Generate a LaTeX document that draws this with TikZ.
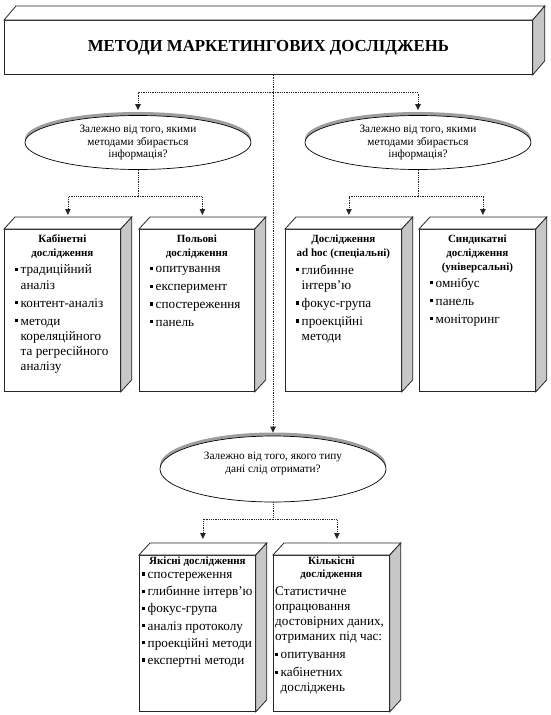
\documentclass[tikz,border=0pt]{standalone}
\usepackage{fontspec}
\setmainfont{Liberation Serif}
\usetikzlibrary{shapes.geometric,shadows,calc,arrows.meta}
\definecolor{sidegray}{gray}{0.78}
\definecolor{shadowgray}{gray}{0.62}
\newcommand\bul{\makebox[5.5pt][l]{\rule[2.8pt]{3.2pt}{3.2pt}}}
\newcommand\ind{\hspace*{5.5pt}}
\newcommand\boxfaces[3]{%
  \draw[edge, fill=white] (#1.north west) -- ++(#2,-#3) -- ($(#1.north east)+(#2,-#3)$) -- (#1.north east) -- cycle;
  \draw[edge, fill=sidegray] (#1.north east) -- ++(#2,-#3) -- ($(#1.south east)+(#2,-#3)$) -- (#1.south east) -- cycle;
}
\tikzset{
  edge/.style={draw=black!85, line width=0.8pt, line join=miter},
  front/.style={edge, fill=white, anchor=north west, inner sep=0pt},
  question/.style={ellipse, draw=black, line width=0.7pt, fill=white, minimum width=226pt, inner sep=0pt, align=center,
    font=\fontsize{11.3}{12.2}\selectfont,
    drop shadow={shadow xshift=0pt, shadow yshift=3.5pt, fill=shadowgray, opacity=1}},
  dline/.style={densely dotted, draw=black!85, line width=0.8pt},
  conn/.style={dline, -{Triangle[length=6pt,width=5.5pt]}},
  head/.style={anchor=north, inner sep=0pt, align=center, font=\bfseries\fontsize{11}{14}\selectfont},
  items/.style={anchor=north west, inner sep=0pt, align=left, font=\fontsize{13.2}{15.3}\selectfont},
}
\begin{document}
\begin{tikzpicture}[x=1pt,y=-1pt]
\useasboundingbox (0,0) rectangle (550,715);

% title
\node[front, minimum width=528pt, minimum height=54pt, font=\bfseries\fontsize{16.8}{18}\selectfont] (title) at (4,20) {МЕТОДИ МАРКЕТИНГОВИХ ДОСЛІДЖЕНЬ};
\boxfaces{title}{12}{14}

% questions
\node[question, minimum height=54pt] (e1) at (138,142.5) {Залежно від того, якими\\методами збирається\\інформація?};
\node[question, minimum height=54pt] (e2) at (418,142.5) {Залежно від того, якими\\методами збирається\\інформація?};
\node[question, minimum height=66pt, font=\fontsize{11.3}{13}\selectfont] (e3) at (273,469) {Залежно від того, якого типу\\дані слід отримати?\\[1pt]~};

% boxes
\node[front, minimum width=116pt, minimum height=162pt] (b1) at (4,229) {};
\boxfaces{b1}{11}{12}
\node[front, minimum width=115pt, minimum height=162pt] (b2) at (139,229) {};
\boxfaces{b2}{11}{12}
\node[front, minimum width=116pt, minimum height=162pt] (b3) at (285,229) {};
\boxfaces{b3}{11}{12}
\node[front, minimum width=116pt, minimum height=162pt] (b4) at (419,229) {};
\boxfaces{b4}{11}{12}
\node[front, minimum width=116pt, minimum height=156pt] (b5) at (139,555) {};
\boxfaces{b5}{11}{12}
\node[front, minimum width=116pt, minimum height=156pt] (b6) at (273,555) {};
\boxfaces{b6}{11}{12}

% box texts
\node[head] (h1) at ($(b1.north)+(0,5.5)$) {Кабінетні\\дослідження};
\node[items] (i1) at ($(b1.north west)+(11,35.5)$) {\bul традиційний\\ \ind аналіз\\[2.7pt] \bul контент-аналіз\\[2.7pt] \bul методи\\ \ind кореляційного\\ \ind та регресійного\\ \ind аналізу};
\node[head] (h2) at ($(b2.north)+(0,5.5)$) {Польові\\дослідження};
\node[items] (i2) at ($(b2.north west)+(11,37.5)$) {\bul опитування\\[2.4pt] \bul експеримент\\[2.4pt] \bul спостереження\\[2.4pt] \bul панель};
\node[head] (h3) at ($(b3.north)+(0,5.5)$) {Дослідження\\ad hoc (спеціальні)};
\node[items] (i3) at ($(b3.north west)+(11,35.5)$) {\bul глибинне\\ \ind інтерв’ю\\[2.7pt] \bul фокус-група\\[2.7pt] \bul проекційні\\ \ind методи};
\node[head] (h4) at ($(b4.north)+(0,5.5)$) {Синдикатні\\дослідження\\(універсальні)};
\node[items] (i4) at ($(b4.north west)+(11,48.5)$) {\bul омнібус\\[2.7pt] \bul панель\\[2.7pt] \bul моніторинг};
\node[head] (h5) at ($(b5.north)+(0,1.5)$) {Якісні дослідження};
\node[items] (i5) at ($(b5.north west)+(3,17)$) {\bul спостереження\\[1.9pt] \bul глибинне інтерв’ю\\[1.9pt] \bul фокус-група\\[1.9pt] \bul аналіз протоколу\\[1.9pt] \bul проекційні методи\\[1.9pt] \bul експертні методи};
\node[head, font=\bfseries\fontsize{11}{13}\selectfont] (h6) at ($(b6.north)+(0,1.5)$) {Кількісні\\дослідження};
\node[items, font=\fontsize{13.2}{15}\selectfont] (i6) at ($(b6.north west)+(2,32)$) {Статистичне\\ опрацювання\\ достовірних даних,\\ отриманих під час:\\[3pt] \bul опитування\\[3pt] \bul кабінетних\\ \ind досліджень};

% connectors
\coordinate (j0) at ($(title.south -| e3.north)+(0,18)$);
\draw[conn, shorten >=3pt] (title.south -| e3.north) -- (e3.north);
\draw[conn, shorten >=5pt] (j0) -| (e1.north);
\draw[conn, shorten >=5pt] (j0) -| (e2.north);

\coordinate (j1) at ($(e1.south)+(0,27)$);
\draw[dline] (e1.south) -- (j1);
\draw[conn] (j1) -| ($(b1.north)+(5.5,-14)$);
\draw[conn] (j1) -| ($(b2.north)+(5.5,-14)$);

\coordinate (j2) at ($(e2.south)+(0,27)$);
\draw[dline] (e2.south) -- (j2);
\draw[conn] (j2) -| ($(b3.north)+(5.5,-14)$);
\draw[conn] (j2) -| ($(b4.north)+(5.5,-14)$);

\coordinate (j3) at ($(e3.south)+(0,17)$);
\draw[dline] (e3.south) -- (j3);
\draw[conn] (j3) -| ($(b5.north)+(5.5,-16)$);
\draw[conn] (j3) -| ($(b6.north)+(5.5,-16)$);
\end{tikzpicture}
\end{document}
